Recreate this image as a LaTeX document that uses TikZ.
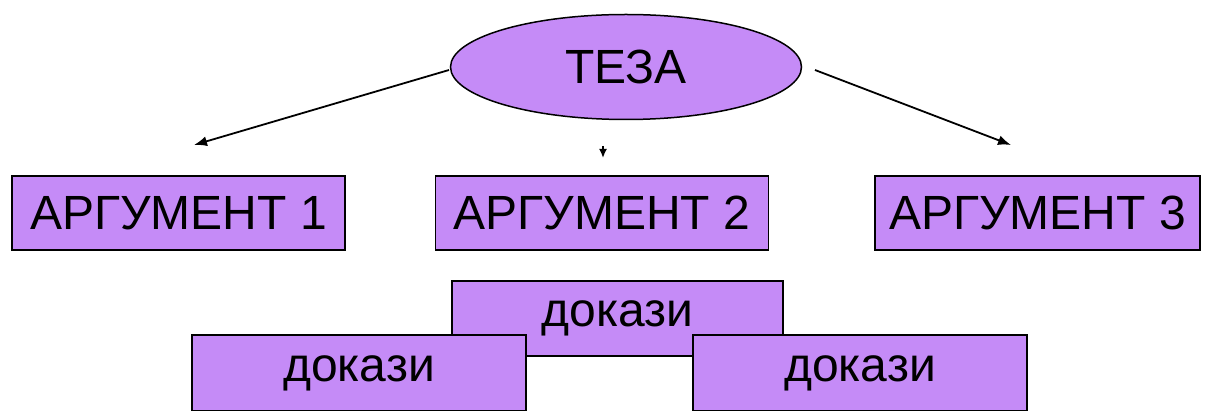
\documentclass[tikz,border=0pt]{standalone}
\usepackage{fontspec}
\setmainfont{Liberation Sans}
\usetikzlibrary{shapes.geometric,arrows.meta}
\definecolor{lilac}{RGB}{197,139,247}
\begin{document}
\begin{tikzpicture}[x=1pt,y=-1pt,
  box/.style={draw=black,line width=1.5pt,fill=lilac,rectangle,inner sep=0pt,
    minimum width=333pt,minimum height=74pt,font=\fontsize{48}{52}\selectfont},
  thesis/.style={draw=black,line width=1.5pt,fill=lilac,ellipse,inner sep=0pt,
    minimum width=351pt,minimum height=105pt,font=\fontsize{48}{52}\selectfont},
  link/.style={line width=1.8pt,-{Latex[length=13pt,width=10pt]}}]
\useasboundingbox (0,0) rectangle (1207,411);
% thesis
\node[thesis] (teza) at (626,67) {ТЕЗА};
% arguments
\node[box] (a1) at (178.5,213) {АРГУМЕНТ 1};
\node[box] (a2) at (602,213) {АРГУМЕНТ 2};
\node[box,minimum width=325pt] (a3) at (1037.5,213) {АРГУМЕНТ 3};
% supporting proofs (middle one lies underneath)
\node[box,minimum width=331pt,minimum height=75pt] (d2) at (617.5,318.5) {докази};
\node[box,minimum width=334pt,minimum height=76pt] (d1) at (359,373) {докази};
\node[box,minimum width=334pt,minimum height=76pt] (d3) at (860,373) {докази};
% arrow ends
\coordinate (s1) at (449,70);
\coordinate (e1) at (194,145);
\coordinate (s3) at (815,70);
\coordinate (e3) at (1011,145);
\coordinate (s2) at (603,146);
\coordinate (e2) at (603,158);
\draw[link] (s1) -- (e1);
\draw[link] (s3) -- (e3);
\draw[line width=1.8pt,-{Latex[length=9pt,width=8pt]}] (s2) -- (e2);
\end{tikzpicture}
\end{document}
